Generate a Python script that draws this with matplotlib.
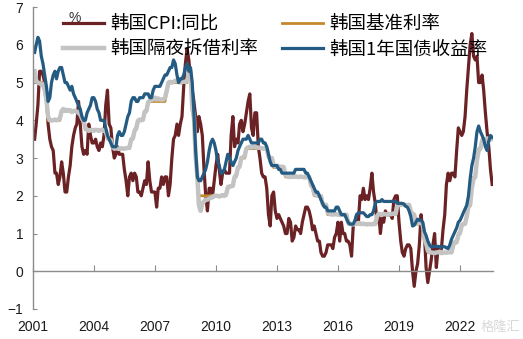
import numpy as np
import pandas as pd
import matplotlib
matplotlib.use('Agg')
import matplotlib.pyplot as plt
import matplotlib.dates as mdates

plt.rcParams['font.family'] = ['Liberation Sans', 'Noto Sans CJK SC', 'DejaVu Sans']

# monthly series, Jan 2001 - Jul 2023
cpi = [
    3.5, 3.9, 4.4, 5.3, 5.3, 5.2, 5.0, 4.7, 3.9, 3.5, 3.3, 3.2,
    2.6, 2.6, 2.3, 2.5, 2.9, 2.6, 2.1, 2.1, 2.5, 2.8, 3.3, 3.6,
    3.8, 3.9, 4.5, 3.9, 3.3, 3.1, 3.2, 3.1, 3.9, 3.6, 3.4, 3.4,
    3.5, 3.3, 3.2, 3.4, 3.3, 3.6, 4.4, 4.8, 3.9, 3.8, 3.3, 3.0,
    3.1, 3.3, 3.1, 3.1, 3.1, 2.7, 2.4, 2.0, 2.5, 2.6, 2.4, 2.6,
    2.5, 2.1, 2.1, 2.0, 2.2, 2.4, 2.3, 2.9, 2.4, 2.1, 2.1, 2.1,
    1.7, 2.2, 2.2, 2.5, 2.3, 2.5, 2.5, 2.0, 2.3, 3.0, 3.5, 3.6,
    3.9, 3.6, 3.9, 4.1, 4.9, 5.5, 5.9, 5.6, 5.1, 4.8, 4.5, 4.1,
    3.7, 4.1, 3.9, 3.6, 2.7, 2.0, 1.6, 2.2, 2.2, 2.0, 2.4, 2.8,
    3.1, 2.7, 2.3, 2.6, 2.7, 2.6, 2.6, 2.6, 3.6, 4.1, 3.3, 3.5,
    3.4, 3.9, 4.0, 3.7, 3.9, 4.2, 4.5, 4.7, 3.8, 3.6, 4.2, 4.2,
    3.3, 3.0, 2.6, 2.5, 2.5, 2.2, 1.5, 1.2, 2.0, 2.1, 1.6, 1.4,
    1.5, 1.4, 1.3, 1.2, 1.0, 1.0, 1.4, 1.3, 0.8, 0.9, 1.2, 1.1,
    1.1, 1.0, 1.3, 1.5, 1.7, 1.7, 1.6, 1.4, 1.1, 1.2, 1.0, 0.8,
    0.8, 0.5, 0.4, 0.4, 0.5, 0.7, 0.7, 0.7, 0.6, 0.9, 1.0, 1.3,
    0.8, 1.3, 1.0, 1.0, 0.8, 0.8, 0.7, 0.4, 1.2, 1.3, 1.5, 1.3,
    2.0, 1.9, 2.2, 1.9, 2.0, 1.9, 2.2, 2.6, 2.1, 1.8, 1.3, 1.5,
    1.0, 1.4, 1.3, 1.6, 1.5, 1.5, 1.5, 1.4, 1.9, 2.0, 2.0, 1.3,
    0.8, 0.5, 0.4, 0.6, 0.7, 0.7, 0.6, 0.0, -0.4, 0.0, 0.2, 0.7,
    1.5, 1.1, 1.0, 0.1, -0.3, 0.0, 0.3, 0.7, 1.0, 0.1, 0.6, 0.5,
    0.6, 1.1, 1.5, 2.3, 2.6, 2.4, 2.6, 2.6, 2.5, 3.2, 3.8, 3.7,
    3.6, 3.7, 4.1, 4.8, 5.4, 6.0, 6.3, 5.7, 5.6, 5.7, 5.0, 5.0,
    5.2, 4.8, 4.2, 3.7, 3.3, 2.7, 2.3,
]

base_rate = [
    5.25, 5.0, 5.0, 5.0, 5.0, 5.0, 4.75, 4.5, 4.0, 4.0, 4.0, 4.0,
    4.0, 4.0, 4.0, 4.0, 4.25, 4.25, 4.25, 4.25, 4.25, 4.25, 4.25, 4.25,
    4.25, 4.25, 4.25, 4.25, 4.0, 4.0, 3.75, 3.75, 3.75, 3.75, 3.75, 3.75,
    3.75, 3.75, 3.75, 3.75, 3.75, 3.75, 3.75, 3.5, 3.5, 3.5, 3.25, 3.25,
    3.25, 3.25, 3.25, 3.25, 3.25, 3.25, 3.25, 3.25, 3.25, 3.5, 3.5, 3.75,
    3.75, 4.0, 4.0, 4.0, 4.0, 4.25, 4.25, 4.5, 4.5, 4.5, 4.5, 4.5,
    4.5, 4.5, 4.5, 4.5, 4.5, 4.5, 4.75, 5.0, 5.0, 5.0, 5.0, 5.0,
    5.0, 5.0, 5.0, 5.0, 5.0, 5.0, 5.0, 5.25, 5.25, 4.25, 4.0, 3.0,
    2.5, 2.0, 2.0, 2.0, 2.0, 2.0, 2.0, 2.0, 2.0, 2.0, 2.0, 2.0,
    2.0, 2.0, 2.0, 2.0, 2.0, 2.0, 2.25, 2.25, 2.25, 2.25, 2.5, 2.5,
    2.75, 2.75, 3.0, 3.0, 3.0, 3.25, 3.25, 3.25, 3.25, 3.25, 3.25, 3.25,
    3.25, 3.25, 3.25, 3.25, 3.25, 3.25, 3.0, 3.0, 3.0, 2.75, 2.75, 2.75,
    2.75, 2.75, 2.75, 2.75, 2.5, 2.5, 2.5, 2.5, 2.5, 2.5, 2.5, 2.5,
    2.5, 2.5, 2.5, 2.5, 2.5, 2.5, 2.5, 2.25, 2.25, 2.0, 2.0, 2.0,
    2.0, 2.0, 1.75, 1.75, 1.75, 1.5, 1.5, 1.5, 1.5, 1.5, 1.5, 1.5,
    1.5, 1.5, 1.5, 1.5, 1.5, 1.25, 1.25, 1.25, 1.25, 1.25, 1.25, 1.25,
    1.25, 1.25, 1.25, 1.25, 1.25, 1.25, 1.25, 1.25, 1.25, 1.25, 1.5, 1.5,
    1.5, 1.5, 1.5, 1.5, 1.5, 1.5, 1.5, 1.5, 1.5, 1.5, 1.75, 1.75,
    1.75, 1.75, 1.75, 1.75, 1.75, 1.75, 1.5, 1.5, 1.5, 1.25, 1.25, 1.25,
    1.25, 1.25, 0.75, 0.75, 0.5, 0.5, 0.5, 0.5, 0.5, 0.5, 0.5, 0.5,
    0.5, 0.5, 0.5, 0.5, 0.5, 0.5, 0.5, 0.75, 0.75, 0.75, 1.0, 1.0,
    1.25, 1.25, 1.25, 1.5, 1.75, 1.75, 2.25, 2.5, 2.5, 3.0, 3.25, 3.25,
    3.5, 3.5, 3.5, 3.5, 3.5, 3.5, 3.5,
]

call_rate = [
    5.30, 5.05, 5.00, 4.98, 4.95, 4.95, 4.80, 4.55, 4.10, 4.00, 4.00, 4.00,
    4.02, 4.00, 4.02, 4.05, 4.25, 4.30, 4.25, 4.28, 4.25, 4.27, 4.22, 4.25,
    4.25, 4.22, 4.20, 4.15, 4.05, 3.98, 3.80, 3.75, 3.72, 3.74, 3.75, 3.72,
    3.75, 3.74, 3.72, 3.74, 3.75, 3.72, 3.72, 3.55, 3.50, 3.48, 3.30, 3.25,
    3.26, 3.25, 3.24, 3.26, 3.25, 3.25, 3.26, 3.27, 3.28, 3.50, 3.52, 3.72,
    3.80, 3.98, 4.02, 4.00, 4.02, 4.22, 4.25, 4.48, 4.52, 4.55, 4.55, 4.60,
    4.55, 4.58, 4.55, 4.55, 4.55, 4.60, 4.78, 5.00, 5.02, 5.00, 5.02, 5.05,
    5.05, 5.02, 5.00, 5.02, 5.02, 5.02, 5.05, 5.25, 5.28, 4.35, 4.10, 3.05,
    2.50, 1.75, 1.60, 1.80, 1.85, 1.90, 1.90, 1.92, 1.95, 1.96, 2.00, 2.00,
    2.00, 1.98, 2.00, 2.02, 2.00, 2.03, 2.22, 2.25, 2.25, 2.27, 2.50, 2.55,
    2.75, 2.78, 3.00, 3.02, 3.05, 3.25, 3.28, 3.30, 3.28, 3.30, 3.29, 3.28,
    3.28, 3.27, 3.26, 3.25, 3.26, 3.25, 3.05, 3.00, 3.00, 2.80, 2.78, 2.80,
    2.78, 2.76, 2.77, 2.76, 2.55, 2.52, 2.50, 2.50, 2.51, 2.50, 2.52, 2.50,
    2.50, 2.51, 2.50, 2.49, 2.49, 2.51, 2.50, 2.30, 2.25, 2.05, 2.02, 2.00,
    2.00, 1.99, 1.78, 1.75, 1.76, 1.55, 1.52, 1.51, 1.50, 1.52, 1.51, 1.50,
    1.50, 1.49, 1.50, 1.49, 1.50, 1.30, 1.26, 1.25, 1.24, 1.25, 1.26, 1.28,
    1.27, 1.25, 1.26, 1.25, 1.24, 1.25, 1.25, 1.24, 1.26, 1.25, 1.45, 1.52,
    1.51, 1.50, 1.52, 1.51, 1.50, 1.52, 1.51, 1.52, 1.53, 1.52, 1.74, 1.77,
    1.78, 1.77, 1.76, 1.76, 1.75, 1.76, 1.58, 1.53, 1.50, 1.31, 1.27, 1.30,
    1.28, 1.27, 0.88, 0.74, 0.55, 0.50, 0.50, 0.49, 0.48, 0.50, 0.50, 0.52,
    0.48, 0.49, 0.50, 0.49, 0.50, 0.51, 0.50, 0.70, 0.78, 0.78, 0.95, 1.02,
    1.22, 1.25, 1.26, 1.45, 1.72, 1.75, 2.22, 2.45, 2.50, 2.95, 3.20, 3.25,
    3.45, 3.48, 3.50, 3.52, 3.50, 3.49, 3.51,
]

ktb_1y = [
    5.8, 6.0, 6.2, 6.1, 5.7, 5.5, 5.2, 4.9, 4.5, 4.6, 5.0, 5.2,
    5.3, 5.1, 5.3, 5.4, 5.4, 5.2, 5.0, 5.0, 4.9, 4.8, 4.9, 4.7,
    4.6, 4.5, 4.4, 4.3, 4.1, 4.0, 4.0, 4.2, 4.3, 4.4, 4.6, 4.6,
    4.5, 4.3, 4.2, 4.0, 4.0, 4.0, 3.8, 3.6, 3.5, 3.4, 3.3, 3.3,
    3.3, 3.6, 3.7, 3.6, 3.6, 3.7, 3.9, 4.1, 4.2, 4.5, 4.6, 4.6,
    4.5, 4.5, 4.6, 4.6, 4.6, 4.7, 4.7, 4.7, 4.6, 4.6, 4.8, 4.9,
    4.9, 4.9, 4.9, 5.0, 5.1, 5.2, 5.2, 5.3, 5.4, 5.4, 5.6, 5.5,
    5.2, 5.0, 5.1, 5.1, 5.2, 5.4, 5.5, 5.3, 5.4, 5.0, 4.2, 3.2,
    2.5, 2.4, 2.4, 2.5, 2.6, 2.7, 2.9, 3.2, 3.4, 3.5, 3.4, 3.2,
    2.9, 2.8, 2.6, 2.6, 2.7, 2.9, 3.1, 3.0, 2.9, 2.8, 2.9, 3.0,
    3.2, 3.3, 3.4, 3.5, 3.5, 3.5, 3.6, 3.5, 3.4, 3.4, 3.4, 3.4,
    3.4, 3.5, 3.5, 3.4, 3.4, 3.3, 3.1, 2.9, 2.8, 2.8, 2.8, 2.8,
    2.7, 2.7, 2.6, 2.6, 2.6, 2.6, 2.6, 2.6, 2.6, 2.6, 2.7, 2.7,
    2.7, 2.7, 2.7, 2.7, 2.6, 2.6, 2.5, 2.4, 2.3, 2.2, 2.1, 2.1,
    2.0, 1.9, 1.8, 1.7, 1.7, 1.6, 1.6, 1.6, 1.6, 1.6, 1.7, 1.7,
    1.6, 1.5, 1.5, 1.5, 1.4, 1.3, 1.25, 1.25, 1.25, 1.35, 1.5, 1.55,
    1.55, 1.55, 1.55, 1.5, 1.45, 1.45, 1.5, 1.5, 1.6, 1.8, 1.85, 1.85,
    1.85, 1.9, 1.85, 1.85, 1.85, 1.85, 1.85, 1.85, 1.85, 1.85, 1.8, 1.8,
    1.8, 1.8, 1.78, 1.72, 1.7, 1.6, 1.45, 1.2, 1.22, 1.3, 1.38, 1.35,
    1.35, 1.3, 1.05, 0.95, 0.8, 0.7, 0.64, 0.65, 0.66, 0.66, 0.66, 0.65,
    0.63, 0.65, 0.65, 0.62, 0.6, 0.7, 0.85, 0.95, 1.05, 1.15, 1.3, 1.35,
    1.45, 1.55, 1.65, 1.75, 2.0, 2.45, 2.8, 3.0, 3.3, 3.7, 3.85, 3.7,
    3.6, 3.5, 3.3, 3.2, 3.45, 3.6, 3.55,
]

dates = pd.date_range('2001-01-01', periods=len(cpi), freq='ME')
tick_years = [2001, 2004, 2007, 2010, 2013, 2016, 2019, 2022]

fig = plt.figure(figsize=(5.23, 3.39), dpi=100)
ax = fig.add_axes([0.063, 0.0885, 0.880, 0.8905])

ax.plot(dates, cpi, color='#6B2224', lw=2.3, label='韩国CPI:同比')
ax.plot(dates, base_rate, color='#C4892F', lw=2.0, label='韩国基准利率')
ax.plot(dates, call_rate, color='#C3C3C3', lw=3.2, label='韩国隔夜拆借利率')
ax.plot(dates, ktb_1y, color='#235B83', lw=2.3, label='韩国1年国债收益率')

ax.set_ylim(-1, 7)
ax.set_yticks(range(-1, 8))
ax.set_xlim(pd.Timestamp('2001-01-01'), pd.Timestamp('2023-08-18'))
ax.set_xticks([pd.Timestamp(f'{y}-01-01') for y in tick_years])
ax.xaxis.set_major_formatter(mdates.DateFormatter('%Y'))

for s in ['top', 'right']:
    ax.spines[s].set_visible(False)
ax.spines['bottom'].set_position(('data', 0))
for s in ['left', 'bottom']:
    ax.spines[s].set_color('#8C8C8C')
    ax.spines[s].set_linewidth(1.0)

ax.tick_params(axis='x', direction='in', length=4, color='#8C8C8C', pad=35,
               labelsize=10, labelcolor='#1A1A1A')
ax.tick_params(axis='y', direction='in', length=3, color='#8C8C8C', pad=7,
               labelsize=10, labelcolor='#1A1A1A')

fig.text(75 / 523, 1 - 18 / 339, '%', ha='center', va='center', fontsize=10,
         color='#333333')

h, l = ax.get_legend_handles_labels()
order = [0, 2, 1, 3]
fig.legend([h[i] for i in order], [l[i] for i in order], ncol=2,
           loc='upper left', bbox_to_anchor=(0.12, 0.953), frameon=False,
           prop={'family': ['Noto Sans CJK SC'], 'size': 13.3},
           handlelength=2.25, handletextpad=0.3, columnspacing=1.3,
           labelspacing=0.37, borderpad=0, borderaxespad=0)

fig.text(0.995, 0.015, '格隆汇', ha='right', va='bottom', fontsize=9.5,
         color='#D8D8D8', family=['Noto Sans CJK SC'])

fig.savefig('out.png', dpi=100)
